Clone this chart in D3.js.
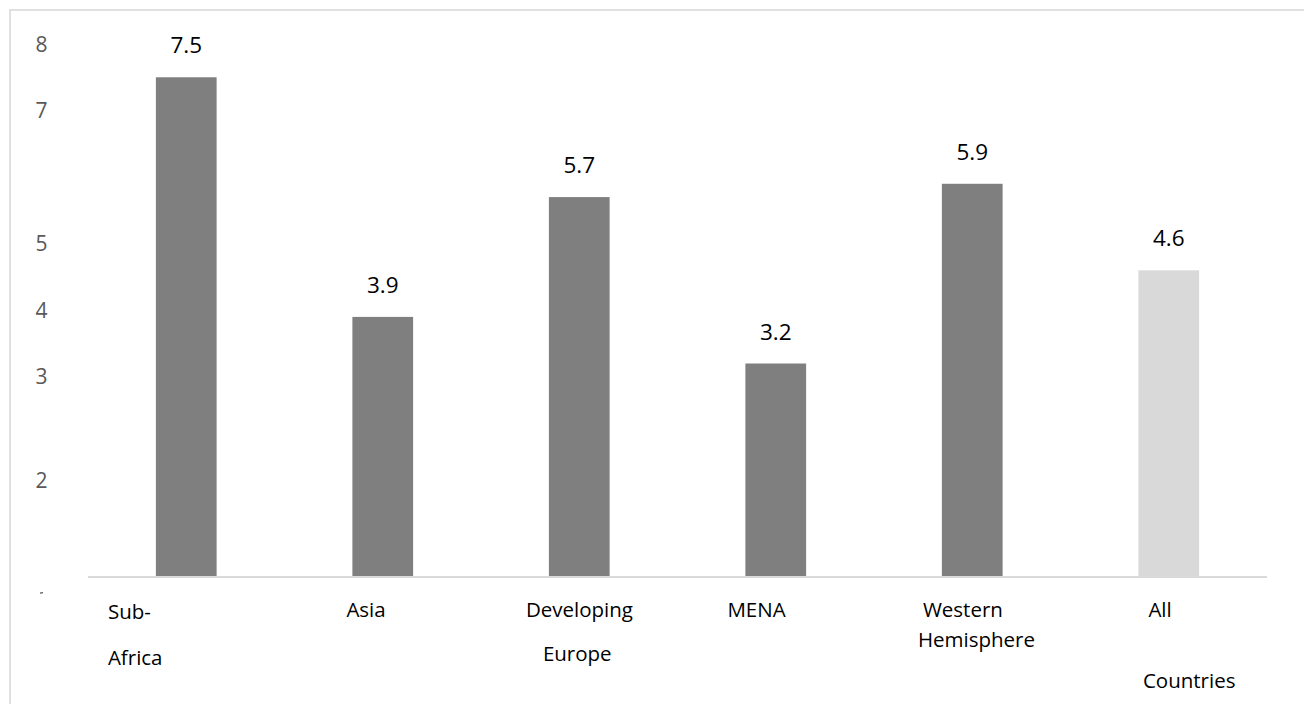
<!DOCTYPE html>
<html>
<head>
<meta charset="utf-8">
<script src="https://cdn.jsdelivr.net/npm/d3@7"></script>
<style>
  html, body { margin: 0; padding: 0; background: #fff; }
  svg { display: block; }
  text { font-family: "Open Sans", "Noto Sans", sans-serif; }
</style>
</head>
<body>
<svg id="chart" width="1304" height="704"></svg>
<script>
// ---- data ----
const categories = ["Sub-Africa", "Asia", "Developing Europe", "MENA", "Western Hemisphere", "All Countries"];
const categoryLines = [["Sub-", "Africa"], ["Asia"], ["Developing", "Europe"], ["MENA"], ["Western", "Hemisphere"], ["All", "Countries"]];
const values = [7.5, 3.9, 5.7, 3.2, 5.9, 4.6];
const valueLabels = ["7.5", "3.9", "5.7", "3.2", "5.9", "4.6"];
const tickValues = [8, 7, 5, 4, 3, 1.44];
const tickLabels = ["8", "7", "5", "4", "3", "2"];

// ---- layout (text placement per label line: [dx from band start, baseline y]) ----
const lineLayout = [
  [[-48, 619], [-48, 665]],
  [[-6, 617]],
  [[-23, 617], [-6, 661]],
  [[-18, 617]],
  [[-19, 617], [-24, 647]],
  [[10, 617], [4.5, 688]]
];

const svg = d3.select("#chart");

// outer frame
svg.append("rect")
  .attr("x", 10).attr("y", 10)
  .attr("width", 1310).attr("height", 710)
  .attr("fill", "none")
  .attr("stroke", "#d9d9d9")
  .attr("stroke-width", 1.6);

const x = d3.scaleBand()
  .domain(categories)
  .range([88, 1267])
  .paddingInner(0.691)
  .paddingOuter(0.3455);

const y = d3.scaleLinear()
  .domain([0, 8])
  .range([576.5, 44]);

// bars
svg.append("g").selectAll("rect")
  .data(values)
  .join("rect")
  .attr("x", (d, i) => x(categories[i]))
  .attr("y", d => y(d))
  .attr("width", x.bandwidth())
  .attr("height", d => y(0) - y(d))
  .attr("fill", (d, i) => i === categories.length - 1 ? "#d9d9d9" : "#7f7f7f");

// baseline axis
svg.append("line")
  .attr("x1", 88).attr("x2", 1267)
  .attr("y1", y(0) + 0.5).attr("y2", y(0) + 0.5)
  .attr("stroke", "#d9d9d9")
  .attr("stroke-width", 1.8);

// value labels
svg.append("g").selectAll("text")
  .data(values)
  .join("text")
  .attr("x", (d, i) => x(categories[i]) + x.bandwidth() / 2)
  .attr("y", d => y(d) - 24)
  .attr("text-anchor", "middle")
  .attr("font-size", 22.5)
  .attr("fill", "#000")
  .text((d, i) => valueLabels[i]);

// y tick labels
const yg = svg.append("g");
yg.selectAll("text")
  .data(tickValues)
  .join("text")
  .attr("x", 41.5)
  .attr("y", d => y(d))
  .attr("dy", "0.36em")
  .attr("text-anchor", "middle")
  .attr("font-size", 21)
  .attr("fill", "#595959")
  .text((d, i) => tickLabels[i]);
// small clipped tick fragment below the axis
yg.append("line")
  .attr("x1", 40).attr("x2", 43)
  .attr("y1", y(-0.25)).attr("y2", y(-0.25) - 0.5)
  .attr("stroke", "#595959")
  .attr("stroke-width", 1.2);

// category labels
const cg = svg.append("g");
categoryLines.forEach((lines, i) => {
  lines.forEach((ln, j) => {
    const [dx, by] = lineLayout[i][j];
    cg.append("text")
      .attr("x", x(categories[i]) + dx)
      .attr("y", by)
      .attr("font-size", 20.5)
      .attr("fill", "#000")
      .text(ln);
  });
});
</script>
</body>
</html>
